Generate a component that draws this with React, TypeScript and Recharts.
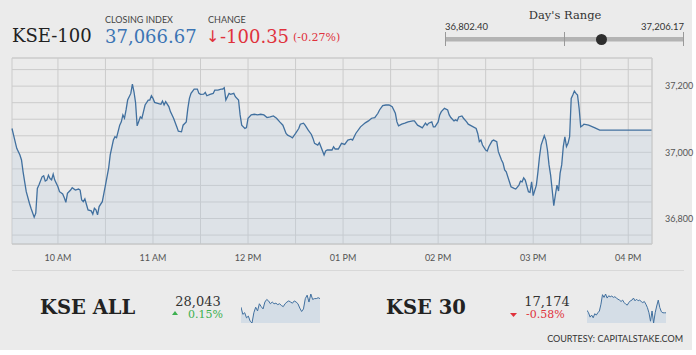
import { AreaChart, Area, XAxis, YAxis, CartesianGrid, ReferenceLine } from "recharts";

// KSE-100 intraday (time -> index level)
const TIMES = [
  "09:31", "09:32", "09:34", "09:36", "09:37", "09:38", "09:39", "09:40", "09:42", "09:43",
  "09:45", "09:46", "09:47", "09:48", "09:50", "09:51", "09:52", "09:53", "09:54", "09:55",
  "09:56", "09:57", "09:58", "10:00", "10:01", "10:03", "10:04", "10:05", "10:06", "10:08",
  "10:09", "10:11", "10:13", "10:14", "10:15", "10:16", "10:17", "10:19", "10:21", "10:22",
  "10:23", "10:24", "10:25", "10:26", "10:28", "10:29", "10:30", "10:32", "10:33", "10:35",
  "10:36", "10:37", "10:39", "10:40", "10:41", "10:42", "10:43", "10:44", "10:46", "10:47",
  "10:48", "10:49", "10:50", "10:52", "10:53", "10:54", "10:55", "10:57", "10:58", "10:59",
  "11:00", "11:01", "11:03", "11:05", "11:06", "11:07", "11:08", "11:10", "11:11", "11:13",
  "11:15", "11:16", "11:18", "11:19", "11:21", "11:22", "11:23", "11:24", "11:26", "11:28",
  "11:29", "11:30", "11:32", "11:33", "11:34", "11:36", "11:38", "11:39", "11:41", "11:43",
  "11:44", "11:45", "11:46", "11:48", "11:49", "11:51", "11:52", "11:54", "11:55", "11:56",
  "11:58", "11:59", "12:00", "12:02", "12:04", "12:06", "12:08", "12:10", "12:12", "12:14",
  "12:16", "12:18", "12:20", "12:22", "12:24", "12:25", "12:27", "12:28", "12:30", "12:32",
  "12:33", "12:35", "12:36", "12:38", "12:40", "12:41", "12:42", "12:44", "12:45", "12:46",
  "12:48", "12:49", "12:50", "12:53", "12:54", "12:55", "12:57", "12:59", "13:01", "13:03",
  "13:05", "13:06", "13:08", "13:11", "13:14", "13:16", "13:18", "13:20", "13:22", "13:23",
  "13:25", "13:27", "13:29", "13:31", "13:33", "13:34", "13:35", "13:37", "13:39", "13:41",
  "13:44", "13:45", "13:47", "13:49", "13:50", "13:52", "13:53", "13:54", "13:56", "13:57",
  "13:58", "14:00", "14:01", "14:02", "14:04", "14:06", "14:07", "14:08", "14:10", "14:11",
  "14:12", "14:13", "14:15", "14:16", "14:18", "14:19", "14:21", "14:24", "14:25", "14:26",
  "14:27", "14:28", "14:30", "14:31", "14:32", "14:34", "14:35", "14:37", "14:38", "14:40",
  "14:41", "14:42", "14:43", "14:45", "14:46", "14:48", "14:49", "14:51", "14:52", "14:53",
  "14:54", "14:55", "14:57", "14:58", "14:59", "15:00", "15:02", "15:03", "15:04", "15:05",
  "15:07", "15:08", "15:09", "15:10", "15:11", "15:12", "15:13", "15:14", "15:15", "15:16",
  "15:17", "15:18", "15:19", "15:20", "15:21", "15:22", "15:23", "15:24", "15:25", "15:26",
  "15:27", "15:28", "15:29", "15:30", "15:31", "15:32", "15:35", "15:39", "15:42", "15:50",
  "16:00", "16:10", "16:15",
];

const KSE100 = [
  37072, 37052, 37012, 36992, 36977, 36941, 36911, 36881, 36846, 36831,
  36804, 36816, 36891, 36901, 36926, 36929, 36913, 36916, 36931, 36921,
  36917, 36934, 36916, 36896, 36881, 36874, 36863, 36849, 36876, 36886,
  36893, 36886, 36889, 36886, 36856, 36851, 36859, 36826, 36823, 36813,
  36831, 36826, 36811, 36836, 36851, 36876, 36901, 36952, 36992, 37037,
  37047, 37044, 37082, 37092, 37113, 37103, 37128, 37158, 37178, 37206,
  37183, 37150, 37080, 37107, 37103, 37123, 37143, 37158, 37158, 37171,
  37163, 37151, 37148, 37145, 37155, 37143, 37153, 37138, 37123, 37103,
  37077, 37064, 37062, 37082, 37092, 37133, 37163, 37178, 37191, 37191,
  37178, 37175, 37176, 37181, 37171, 37175, 37178, 37188, 37188, 37191,
  37191, 37195, 37158, 37178, 37175, 37178, 37168, 37158, 37113, 37082,
  37072, 37075, 37103, 37113, 37115, 37113, 37115, 37113, 37105, 37107,
  37110, 37103, 37092, 37082, 37057, 37052, 37047, 37044, 37057, 37072,
  37085, 37088, 37082, 37067, 37054, 37042, 37027, 37022, 37029, 37017,
  36992, 37004, 37007, 37007, 37017, 37010, 37010, 37027, 37024, 37037,
  37040, 37037, 37057, 37077, 37089, 37095, 37103, 37105, 37118, 37128,
  37141, 37143, 37143, 37138, 37118, 37092, 37080, 37085, 37088, 37092,
  37095, 37095, 37082, 37077, 37074, 37088, 37082, 37088, 37092, 37077,
  37077, 37092, 37113, 37123, 37133, 37128, 37113, 37105, 37095, 37098,
  37095, 37107, 37110, 37103, 37092, 37085, 37080, 37072, 37057, 37032,
  37037, 37022, 37007, 37004, 37017, 37034, 37037, 37032, 37002, 36977,
  36967, 36947, 36941, 36911, 36896, 36891, 36889, 36901, 36913, 36911,
  36923, 36916, 36881, 36879, 36911, 36869, 36901, 36941, 36987, 37022,
  37050, 37037, 37007, 36962, 36931, 36886, 36839, 36871, 36901, 36883,
  36937, 36962, 37017, 37047, 37017, 37027, 37047, 37163, 37173, 37185,
  37178, 37173, 37133, 37077, 37080, 37085, 37082, 37074, 37067, 37067,
  37067, 37067, 37067,
];

const X_TICKS = [600, 630, 660, 690, 720, 750, 780, 810, 840, 870, 900, 930, 960];
const Y_TICKS = [36750, 36800, 36850, 36900, 36950, 37000, 37050, 37100, 37150, 37200, 37250];
const Y_LABELED = [36800, 37000, 37200];
const Y_TOP = 37285;

const KSE_ALL = [
  28013, 27988, 27994, 27976, 27982, 27964, 27958, 27994, 28013, 28000,
  28025, 28015, 28007, 28031, 28040, 28035, 28025, 28031, 28025, 28027,
  28022, 28025, 28019, 28015, 28025, 28031, 28035, 28031, 28027, 28035,
  28031, 28025, 28010, 27998, 28007, 28043, 28055, 28031, 28059, 28040,
  28043, 28043, 28046, 28043,
];

const KSE_30 = [
  17185, 17174, 17155, 17164, 17152, 17170, 17164, 17174, 17182, 17212,
  17254, 17242, 17257, 17239, 17249, 17245, 17248, 17242, 17245, 17239,
  17234, 17230, 17224, 17230, 17219, 17212, 17208, 17219, 17227, 17230,
  17239, 17227, 17234, 17227, 17230, 17224, 17219, 17224, 17212, 17197,
  17174, 17137, 17182, 17129, 17174, 17204, 17230, 17197, 17179, 17174,
  17174, 17174,
];

const SERIF = "'DejaVu Serif', serif";
const SANS = "Lato, 'Open Sans', sans-serif";
const LINE = "#41709f";
const RED = "#e0323c";
const GREEN = "#3cb050";
const GRID = "#cbcbcb";

const toMin = (s: string) => {
  const [h, m] = s.split(":").map(Number);
  return h * 60 + m;
};

const mainData = TIMES.map((t, i) => ({ t: toMin(t), v: KSE100[i] }));
const allData = KSE_ALL.map((v, i) => ({ i, v }));
const k30Data = KSE_30.map((v, i) => ({ i, v }));

const fmtTime = (t: number) => {
  if (t % 60 !== 0) return "";
  const h = t / 60;
  const hh = h > 12 ? h - 12 : h;
  return `${String(hh).padStart(2, "0")} ${h >= 12 ? "PM" : "AM"}`;
};

const fmtLevel = (v: number) => (Y_LABELED.includes(v) ? v.toLocaleString("en-US") : "");

function Spark({ data }: { data: { i: number; v: number }[] }) {
  return (
    <AreaChart width={79} height={30} data={data} margin={{ top: 1, right: 0, bottom: 0, left: 0 }}>
      <XAxis dataKey="i" hide />
      <YAxis hide domain={["dataMin", "dataMax"]} />
      <Area
        type="linear"
        dataKey="v"
        stroke={LINE}
        strokeWidth={1}
        fill="#b9cbe0"
        fillOpacity={0.45}
        dot={false}
        activeDot={false}
        isAnimationActive={false}
      />
    </AreaChart>
  );
}

export default function App() {
  return (
    <div style={{ position: "absolute", left: 0, top: 0, width: 696, height: 355, background: "#fff" }}>
      <div style={{ position: "absolute", left: 0, top: 0, width: 692, height: 350, background: "#ebebeb" }} />

      <svg width={696} height={355} style={{ position: "absolute", left: 0, top: 0 }}>
        {/* header */}
        <text x={12} y={42} fontFamily={SERIF} fontSize={18} fill="#222">KSE-100</text>
        <text x={105} y={22.5} fontFamily={SANS} fontSize={9} fill="#444">CLOSING INDEX</text>
        <text x={105} y={43} fontFamily={SERIF} fontSize={18} fill="#3b74b4">37,066.67</text>
        <text x={208} y={22.5} fontFamily={SANS} fontSize={9} fill="#444">CHANGE</text>
        <text x={206} y={42} fontFamily="'DejaVu Sans', sans-serif" fontSize={16} fill={RED}>↓</text>
        <text x={220} y={43} fontFamily={SERIF} fontSize={18} fill={RED}>-100.35</text>
        <text x={293} y={41} fontFamily={SERIF} fontSize={11} fill={RED}>(-0.27%)</text>

        {/* day's range */}
        <text x={565} y={18.5} textAnchor="middle" fontFamily={SERIF} fontSize={11.5} fill="#333">Day's Range</text>
        <text x={445} y={29.5} fontFamily={SANS} fontSize={9.5} fill="#333">36,802.40</text>
        <text x={684} y={29.5} textAnchor="end" fontFamily={SANS} fontSize={9.5} fill="#333">37,206.17</text>
        <rect x={445} y={37} width={239} height={4.5} fill="#b3b3b3" />
        <line x1={445.5} y1={32} x2={445.5} y2={46} stroke="#999" />
        <line x1={564.5} y1={32} x2={564.5} y2={46} stroke="#999" />
        <line x1={683.5} y1={32} x2={683.5} y2={46} stroke="#999" />
        <circle cx={601.5} cy={39.5} r={5.5} fill="#2e2e2e" />

        {/* footer */}
        <line x1={12} y1={270.5} x2={684} y2={270.5} stroke="#d8d8d8" />
        <text x={40} y={314} fontFamily={SERIF} fontSize={19.5} fontWeight="bold" fill="#222">KSE ALL</text>
        <text x={198} y={305.5} textAnchor="middle" fontFamily={SERIF} fontSize={13} fill="#333">28,043</text>
        <polygon points="172,315 178,315 175,311" fill={GREEN} />
        <text x={188} y={318} fontFamily={SERIF} fontSize={11} fill={GREEN}>0.15%</text>

        <text x={386} y={314} fontFamily={SERIF} fontSize={19.5} fontWeight="bold" fill="#222">KSE 30</text>
        <text x={547} y={305.5} textAnchor="middle" fontFamily={SERIF} fontSize={13} fill="#333">17,174</text>
        <polygon points="510,313 517,313 513.5,317" fill={RED} />
        <text x={526} y={318} fontFamily={SERIF} fontSize={11} fill={RED}>-0.58%</text>

        <text x={683} y={342} textAnchor="end" fontFamily={SANS} fontSize={9} fill="#333">COURTESY: CAPITALSTAKE.COM</text>
      </svg>

      <div style={{ position: "absolute", left: 0, top: 50 }}>
        <AreaChart width={696} height={225} data={mainData} margin={{ top: 8, right: 4, bottom: 9, left: 12 }}>
          <CartesianGrid stroke={GRID} />
          <XAxis
            dataKey="t"
            type="number"
            domain={[571, 975]}
            ticks={X_TICKS}
            interval={0}
            tickFormatter={fmtTime}
            tickLine={false}
            axisLine={{ stroke: "#c4c4c4" }}
            tickMargin={5}
            height={22}
            tick={{ fontSize: 9, fontFamily: SANS, fill: "#555" }}
          />
          <YAxis
            orientation="right"
            type="number"
            domain={[36723, Y_TOP]}
            allowDataOverflow
            ticks={Y_TICKS}
            interval={0}
            tickFormatter={fmtLevel}
            tickLine={false}
            axisLine={{ stroke: GRID }}
            tickMargin={7}
            width={40}
            tick={{ fontSize: 9, fontFamily: SANS, fill: "#555" }}
          />
          <ReferenceLine y={Y_TOP} stroke={GRID} />
          <Area
            type="linear"
            dataKey="v"
            stroke={LINE}
            strokeWidth={1.3}
            fill="#b9cbe0"
            fillOpacity={0.28}
            dot={false}
            activeDot={false}
            isAnimationActive={false}
          />
        </AreaChart>
      </div>

      <div style={{ position: "absolute", left: 241, top: 293 }}>
        <Spark data={allData} />
      </div>
      <div style={{ position: "absolute", left: 587, top: 293 }}>
        <Spark data={k30Data} />
      </div>
    </div>
  );
}
